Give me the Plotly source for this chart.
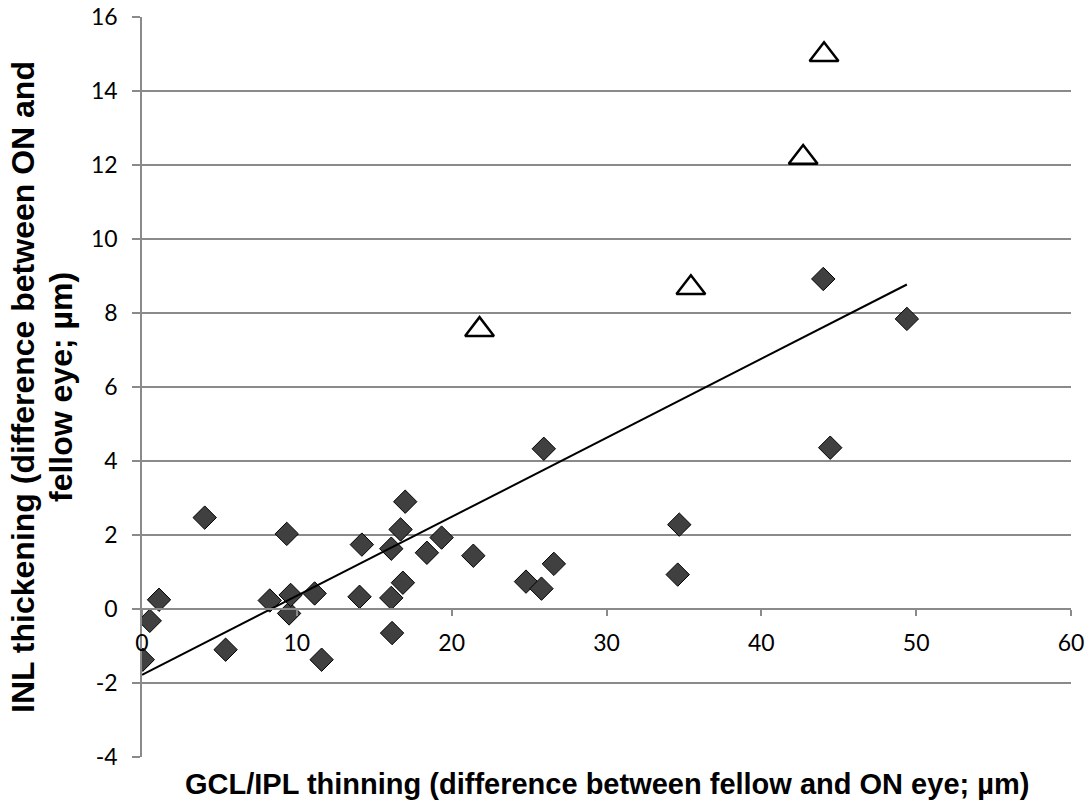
import plotly.graph_objects as go

# ON eyes without microcystic changes (diamonds)
diamond_x = [0.05, 0.5, 1.1, 4.05, 5.4, 8.25, 9.35, 9.5, 9.6, 11.15, 11.6, 14.05, 14.2,
             16.1, 16.1, 16.15, 16.7, 16.85, 17.0, 18.4, 19.35, 21.4, 24.8, 25.8, 26.6,
             25.95, 34.7, 34.6, 44.0, 44.45, 49.4]
diamond_y = [-1.37, -0.32, 0.25, 2.47, -1.1, 0.23, 2.03, -0.12, 0.38, 0.42, -1.37, 0.33, 1.74,
             1.63, 0.3, -0.65, 2.15, 0.71, 2.9, 1.52, 1.93, 1.44, 0.74, 0.55, 1.22,
             4.33, 2.28, 0.93, 8.92, 4.36, 7.84]

# eyes with microcystic changes (triangles)
triangle_x = [21.8, 35.45, 42.7, 44.05]
triangle_y = [7.55, 8.68, 12.2, 14.98]

# linear trend line endpoints
trend_x = [0.0, 49.4]
trend_y = [-1.78, 8.77]

x_ticks = [0, 10, 20, 30, 40, 50, 60]
y_ticks = [-4, -2, 0, 2, 4, 6, 8, 10, 12, 14, 16]

x_title = "GCL/IPL thinning (difference between fellow and ON eye; µm)"
y_title_1 = "INL thickening (difference between ON and"
y_title_2 = "fellow eye; µm)"

fig = go.Figure()
fig.add_trace(go.Scatter(x=diamond_x, y=diamond_y, mode="markers",
                         marker=dict(symbol="diamond", size=18, color="#404040",
                                     line=dict(color="#000000", width=1)),
                         showlegend=False))
fig.add_trace(go.Scatter(x=trend_x, y=trend_y, mode="lines",
                         line=dict(color="#000000", width=2), showlegend=False))
fig.add_trace(go.Scatter(x=triangle_x, y=triangle_y, mode="markers",
                         marker=dict(symbol="triangle-up", size=25, color="#ffffff",
                                     line=dict(color="#000000", width=2.5)),
                         showlegend=False))

tick_font = dict(family="Lato, Open Sans, sans-serif", size=23, color="#000000")
title_font_x = dict(family="Liberation Sans, Arial, sans-serif", size=29, color="#000000")
title_font_y = dict(family="Liberation Sans, Arial, sans-serif", size=32, color="#000000")
axis_col = "#8a8a8a"

fig.update_layout(
    width=1091, height=801,
    margin=dict(l=142, r=20, t=17, b=44, autoexpand=False),
    plot_bgcolor="#ffffff", paper_bgcolor="#ffffff",
    xaxis=dict(range=[0, 60], tickvals=x_ticks, ticktext=[str(v) for v in x_ticks],
               showgrid=False, zeroline=False, showline=True, linecolor=axis_col, linewidth=1.5,
               ticks="outside", ticklen=6, tickcolor=axis_col, tickwidth=1.5,
               anchor="free", position=0.2, tickfont=tick_font, ticklabelstandoff=8,
               automargin=False),
    yaxis=dict(range=[-4, 16], tickvals=y_ticks, ticktext=[str(v) for v in y_ticks],
               showgrid=True, gridcolor=axis_col, gridwidth=1.5, zeroline=False,
               showline=True, linecolor=axis_col, linewidth=1.5,
               ticks="outside", ticklen=8, tickcolor=axis_col, tickwidth=1.5,
               tickfont=tick_font, ticklabelstandoff=10, domain=[0, 1], automargin=False),
    annotations=[
        dict(text="<b>" + x_title + "</b>",
             xref="paper", yref="paper", x=0.5, y=0, yshift=-27, yanchor="middle",
             showarrow=False, font=title_font_x),
        dict(text="<b>" + y_title_1 + "</b>",
             xref="paper", yref="paper", x=0, xshift=-119, y=0.5, xanchor="center",
             yanchor="middle", textangle=-90, showarrow=False, font=title_font_y),
        dict(text="<b>" + y_title_2 + "</b>",
             xref="paper", yref="paper", x=0, xshift=-81, y=0.5, xanchor="center",
             yanchor="middle", textangle=-90, showarrow=False, font=title_font_y),
    ],
)

fig.write_html("out.html", config={"displayModeBar": False},
               post_script="document.body.style.margin='0';")
